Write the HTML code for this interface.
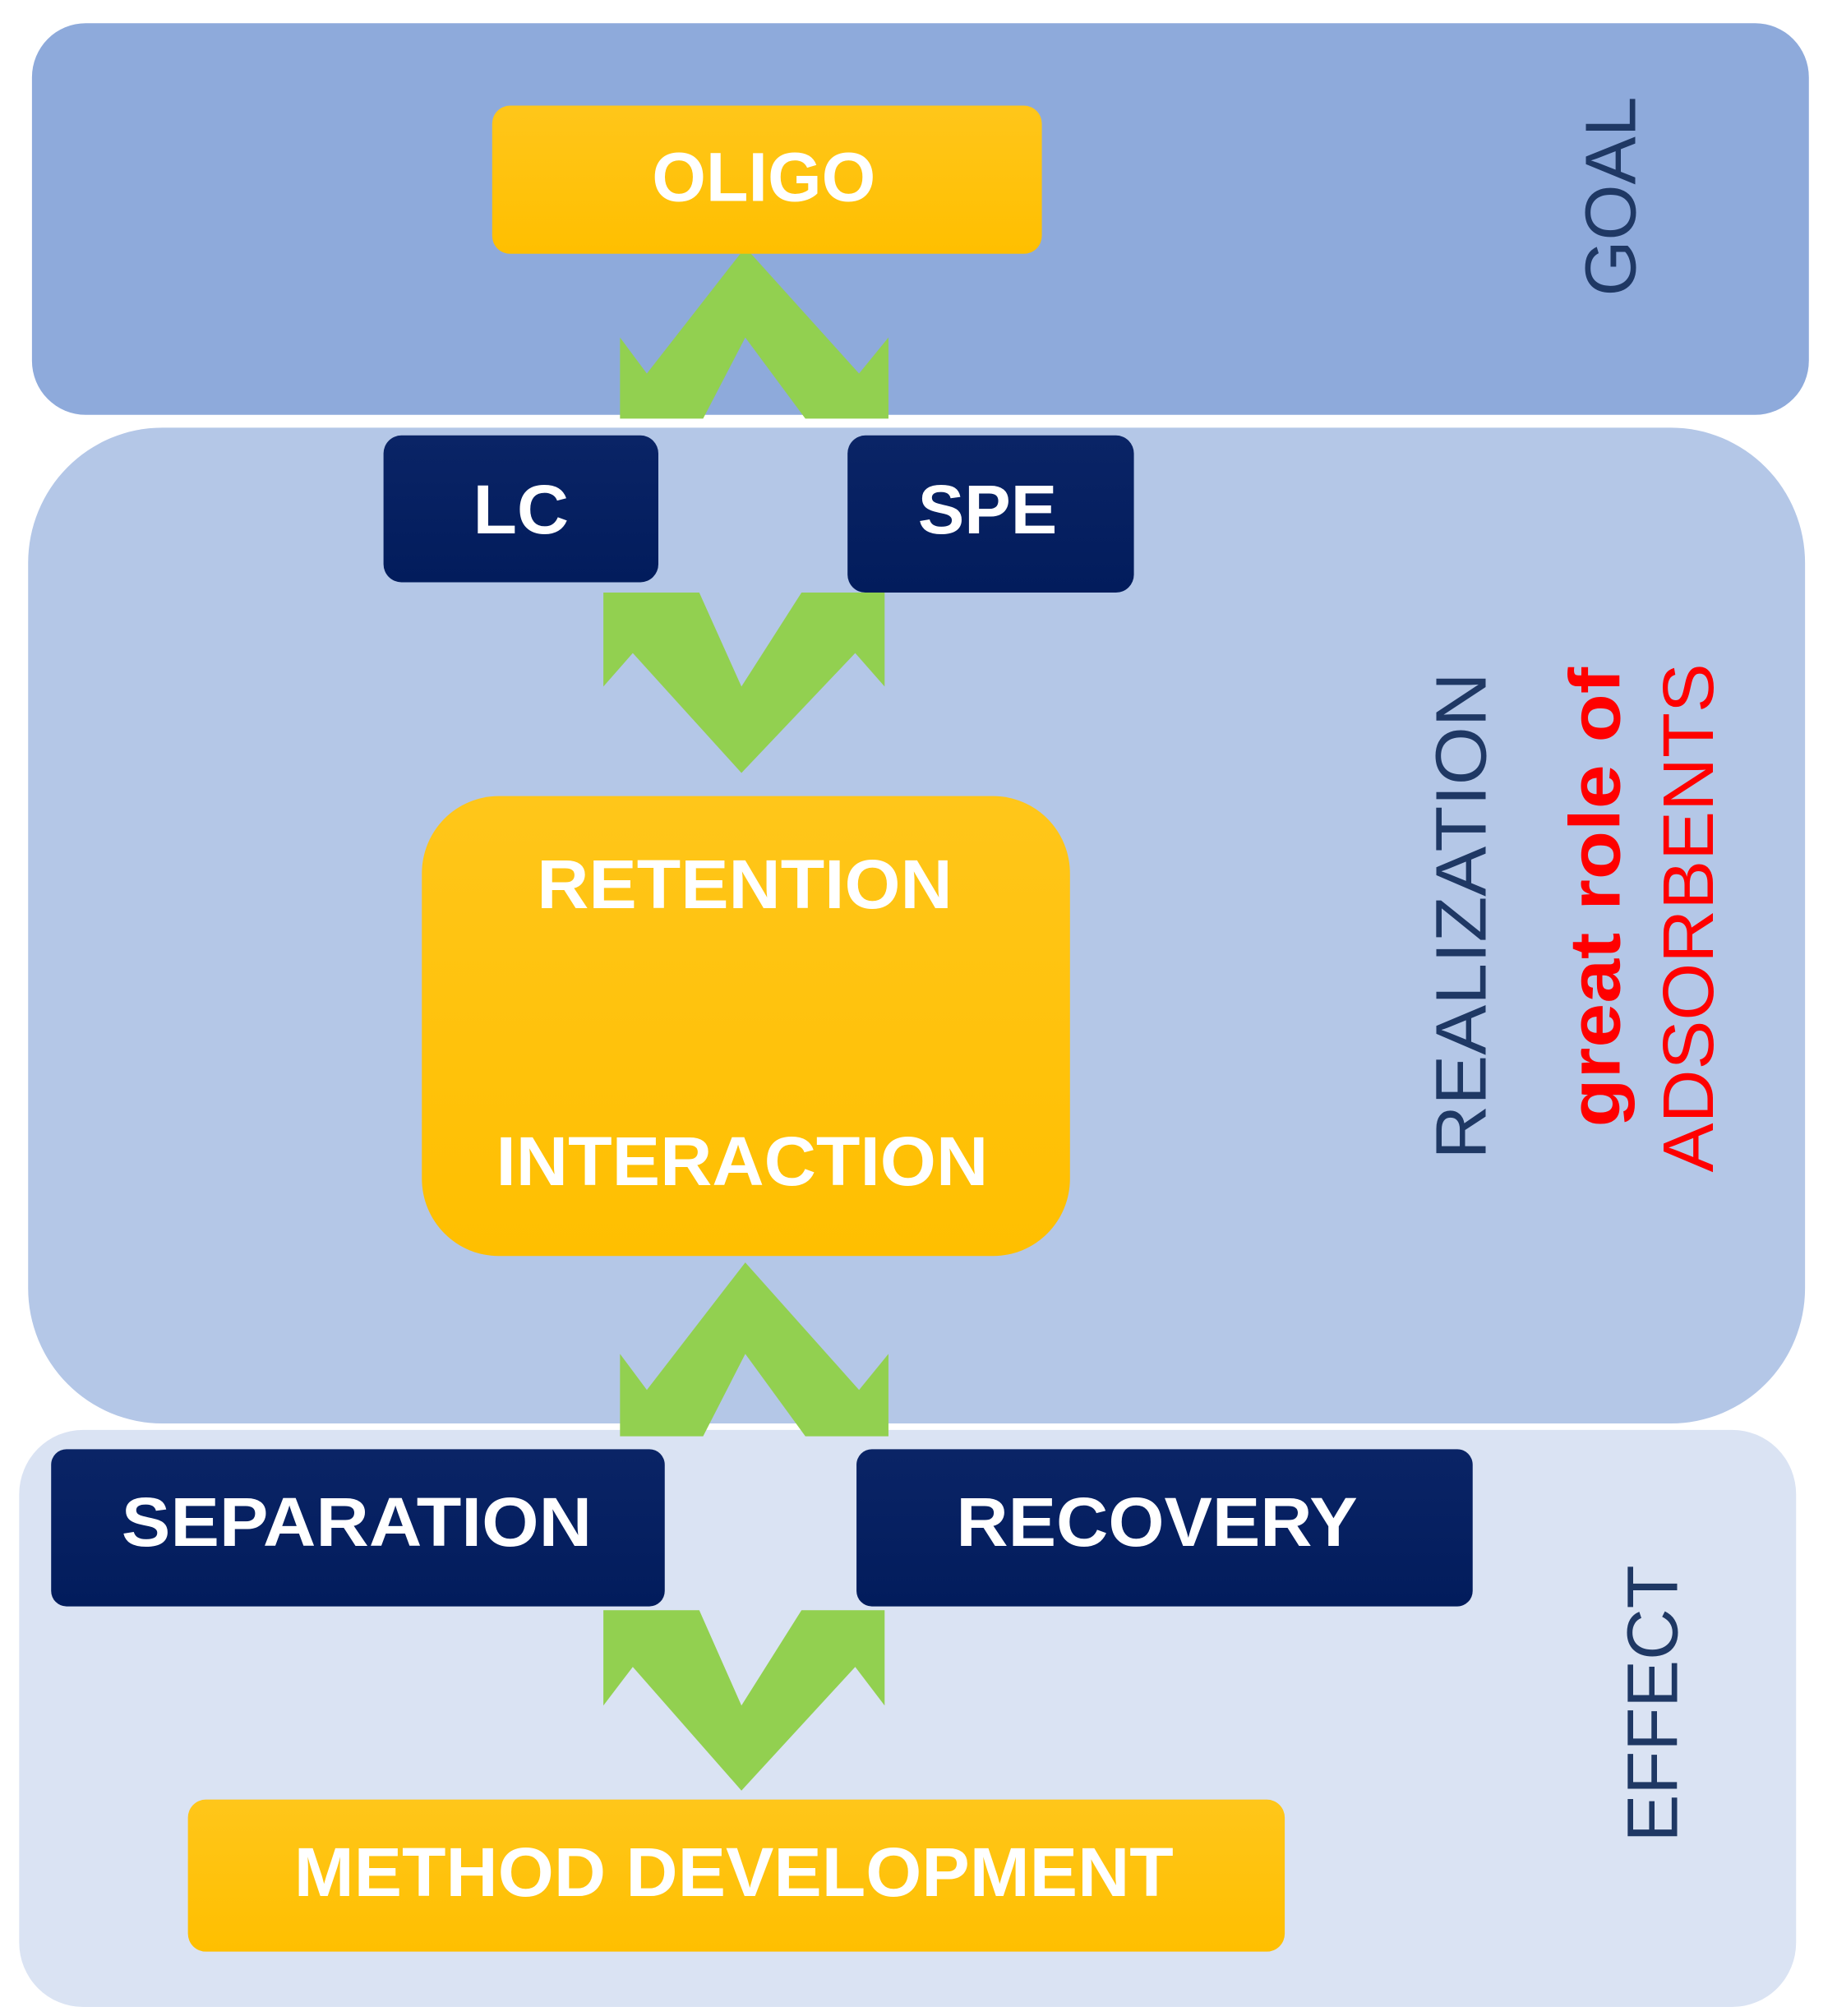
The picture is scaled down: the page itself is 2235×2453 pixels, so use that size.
<!DOCTYPE html>
<html><head><meta charset="utf-8"><style>html,body{margin:0;padding:0;background:#fff}svg{display:block}</style></head>
<body>
<svg width="2235" height="2453" viewBox="0 0 1437 1565" preserveAspectRatio="none" xmlns="http://www.w3.org/2000/svg">
<defs>
<linearGradient id="gy" x1="0" y1="0" x2="0" y2="1"><stop offset="0" stop-color="#ffc61a"/><stop offset="1" stop-color="#ffbf00"/></linearGradient>
<linearGradient id="gn" x1="0" y1="0" x2="0" y2="1"><stop offset="0" stop-color="#0a2466"/><stop offset="1" stop-color="#021c5c"/></linearGradient>
</defs>
<rect x="25" y="18" width="1390" height="304" rx="42" fill="#8eaadb"/>
<rect x="22" y="332" width="1390" height="773" rx="105" fill="#b4c7e7"/>
<rect x="15" y="1110" width="1390" height="448" rx="50" fill="#dae3f3"/>

<g fill="#92d050">
<polygon points="583,192 672,290 695,262 695,325 630,325 583,262 550,325 485,325 485,262 506,290"/>
<polygon points="580,600 669,507 692,533 692,460 627,460 580,533 547,460 472,460 472,533 495,507"/>
<polygon points="583,980 672,1079 695,1051 695,1115 630,1115 583,1051 550,1115 485,1115 485,1051 506,1079"/>
<polygon points="580,1390 669,1294 692,1324 692,1250 627,1250 580,1324 547,1250 472,1250 472,1324 495,1294"/>
</g>

<rect x="385" y="82" width="430" height="115" rx="14" fill="url(#gy)"/>
<rect x="300" y="338" width="215" height="114" rx="14" fill="url(#gn)"/>
<rect x="663" y="338" width="224" height="122" rx="14" fill="url(#gn)"/>
<rect x="330" y="618" width="507" height="357" rx="60" fill="url(#gy)"/>
<rect x="40" y="1125" width="480" height="122" rx="12" fill="url(#gn)"/>
<rect x="670" y="1125" width="482" height="122" rx="12" fill="url(#gn)"/>
<rect x="147" y="1397" width="858" height="118" rx="14" fill="url(#gy)"/>

<g font-family="Liberation Sans, Arial, sans-serif" font-weight="bold" fill="#fff" font-size="54">
<text x="510" y="156" textLength="175" lengthAdjust="spacingAndGlyphs">OLIGO</text>
<text x="370" y="414" textLength="75" lengthAdjust="spacingAndGlyphs">LC</text>
<text x="718" y="414" textLength="109" lengthAdjust="spacingAndGlyphs">SPE</text>
<text x="420" y="705" textLength="325" lengthAdjust="spacingAndGlyphs">RETENTION</text>
<text x="388" y="920" textLength="385" lengthAdjust="spacingAndGlyphs">INTERACTION</text>
<text x="95" y="1200" textLength="368" lengthAdjust="spacingAndGlyphs">SEPARATION</text>
<text x="748" y="1200" textLength="314" lengthAdjust="spacingAndGlyphs">RECOVERY</text>
<text x="230" y="1472" textLength="688" lengthAdjust="spacingAndGlyphs">METHOD DEVELOPMENT</text>
</g>
<g font-family="Liberation Sans, Arial, sans-serif" font-size="56">
<text transform="translate(1279,230) rotate(-90)" fill="#1f3864" textLength="155" lengthAdjust="spacingAndGlyphs">GOAL</text>
<text transform="translate(1162,900) rotate(-90)" fill="#1f3864" textLength="378" lengthAdjust="spacingAndGlyphs">REALIZATION</text>
<text transform="translate(1267,875) rotate(-90)" fill="#ff0000" font-weight="bold" textLength="357" lengthAdjust="spacingAndGlyphs">great role of</text>
<text transform="translate(1340,910) rotate(-90)" fill="#ff0000" textLength="395" lengthAdjust="spacingAndGlyphs">ADSORBENTS</text>
<text transform="translate(1312,1430) rotate(-90)" fill="#1f3864" textLength="215" lengthAdjust="spacingAndGlyphs">EFFECT</text>
</g>
</svg>
</body></html>
